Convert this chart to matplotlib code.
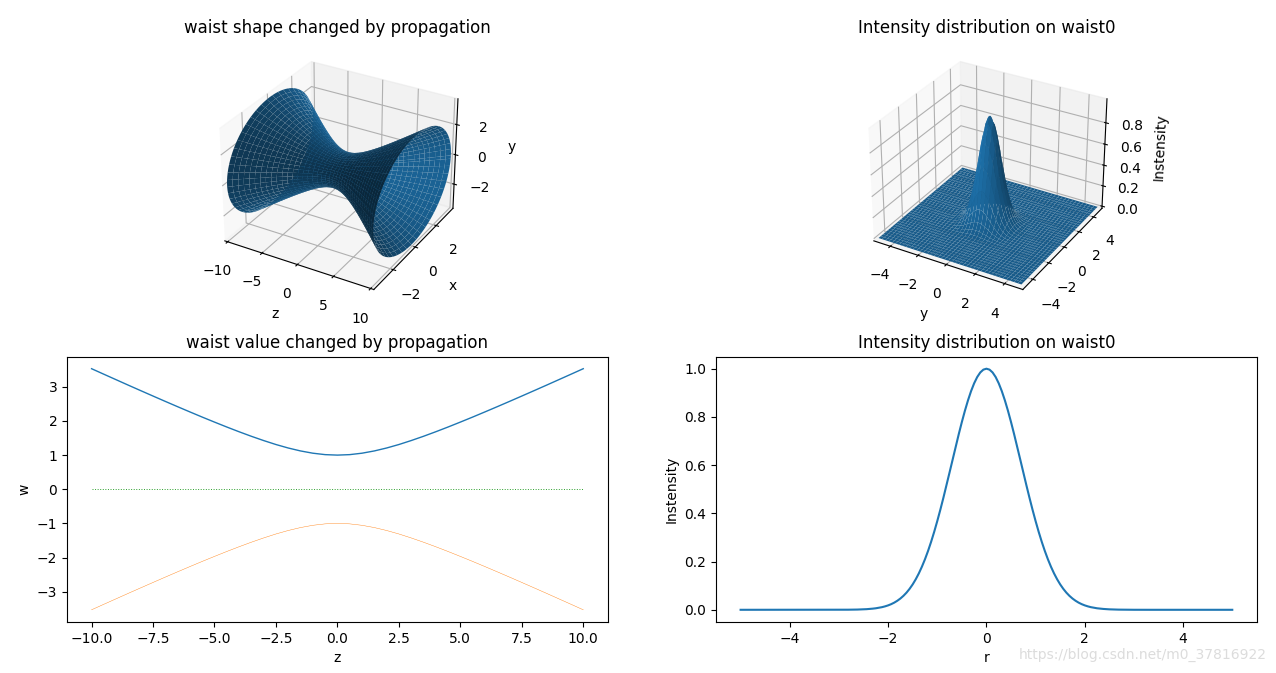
import numpy as np
import matplotlib
matplotlib.use('Agg')
import matplotlib.pyplot as plt

# beam radius w, z = 0, 0.5, ..., 10 (symmetric in z)
z_half = [0, 0.5, 1, 1.5, 2, 2.5, 3, 3.5, 4, 4.5, 5, 5.5, 6, 6.5, 7, 7.5, 8, 8.5, 9, 9.5, 10]
w_half = [1.0, 1.014, 1.056, 1.122, 1.208, 1.310, 1.426, 1.551, 1.684, 1.823, 1.967,
          2.114, 2.265, 2.418, 2.573, 2.730, 2.888, 3.047, 3.208, 3.369, 3.531]

# intensity profile, r = 0, 0.0625, ..., 5 (symmetric in r)
r_half = [i * 0.0625 for i in range(81)]
I_half = [1.0, 0.9961, 0.9845, 0.9655, 0.9394, 0.9070, 0.8688, 0.8258, 0.7788, 0.7288,
          0.6766, 0.6234, 0.5698, 0.5168, 0.4650, 0.4152, 0.3679, 0.3234, 0.2821, 0.2441,
          0.2096, 0.1787, 0.1510, 0.1267, 0.1054, 0.0871, 0.0713, 0.0580, 0.0468, 0.0375,
          0.0297, 0.0234, 0.0183, 0.0142, 0.0109, 0.0084, 0.0063, 0.0048, 0.0036, 0.0026,
          0.0019, 0.0014, 0.0010, 0.0007, 0.0005, 0.0004, 0.0003, 0.0002, 0.0001, 0.0,
          0.0, 0.0, 0.0, 0.0, 0.0, 0.0, 0.0, 0.0, 0.0, 0.0,
          0.0, 0.0, 0.0, 0.0, 0.0, 0.0, 0.0, 0.0, 0.0, 0.0,
          0.0, 0.0, 0.0, 0.0, 0.0, 0.0, 0.0, 0.0, 0.0, 0.0, 0.0]

z = np.concatenate([-np.array(z_half[:0:-1]), z_half])
w = np.concatenate([np.array(w_half[:0:-1]), w_half])
r = np.concatenate([-np.array(r_half[:0:-1]), r_half])
I = np.concatenate([np.array(I_half[:0:-1]), I_half])

fig = plt.figure(figsize=(12.76, 6.73), dpi=100)

# 1. waist shape in 3D
ax1 = fig.add_subplot(2, 2, 1, projection='3d')
theta = np.linspace(0, 2 * np.pi, 100)
Z, T = np.meshgrid(z, theta)
W = np.meshgrid(w, theta)[0]
ax1.plot_surface(Z, W * np.cos(T), W * np.sin(T))
ax1.set_xlim(-10.42, 10.42)
ax1.set_ylim(-3.68, 3.68)
ax1.set_zlim(-3.68, 3.68)
ax1.set_xticks([-10, -5, 0, 5, 10])
ax1.set_yticks([-2, 0, 2])
ax1.set_zticks([-2, 0, 2])
ax1.set_xlabel('z')
ax1.set_ylabel('x')
ax1.set_zlabel('y')
ax1.set_title('waist shape changed by propagation')

# 2. intensity on waist0 in 3D (grid uses every second sample)
ax2 = fig.add_subplot(2, 2, 2, projection='3d')
X, Y = np.meshgrid(r[::2], r[::2])
Iz = np.outer(I[::2], I[::2])
ax2.plot_surface(X, Y, Iz)
ax2.set_xlim(-5.21, 5.21)
ax2.set_ylim(-5.21, 5.21)
ax2.set_zlim(-0.021, 1.021)
ax2.set_xticks([-4, -2, 0, 2, 4])
ax2.set_yticks([-4, -2, 0, 2, 4])
ax2.set_zticks([0, 0.2, 0.4, 0.6, 0.8])
ax2.set_xlabel('y')
ax2.set_zlabel('Instensity')
ax2.set_title('Intensity distribution on waist0')

# 3. waist value along z
ax3 = fig.add_subplot(2, 2, 3)
ax3.plot(z, w, lw=1)
ax3.plot(z, -w, lw=0.3)
ax3.plot(z, np.zeros_like(z), ':', color='tab:green', lw=0.7)
ax3.set_xlabel('z')
ax3.set_ylabel('w')
ax3.set_title('waist value changed by propagation')

# 4. intensity profile
ax4 = fig.add_subplot(2, 2, 4)
ax4.plot(r, I)
ax4.set_xlabel('r')
ax4.set_ylabel('Instensity')
ax4.set_title('Intensity distribution on waist0')

plt.subplots_adjust(left=0.0525, right=0.985, bottom=0.076, top=0.939, wspace=0.2, hspace=0.19)
fig.text(0.993, 0.027, 'https://blog.csdn.net/m0_37816922', ha='right', va='center',
         fontsize=10, color='#dcdcdc')
plt.savefig('out.png')
